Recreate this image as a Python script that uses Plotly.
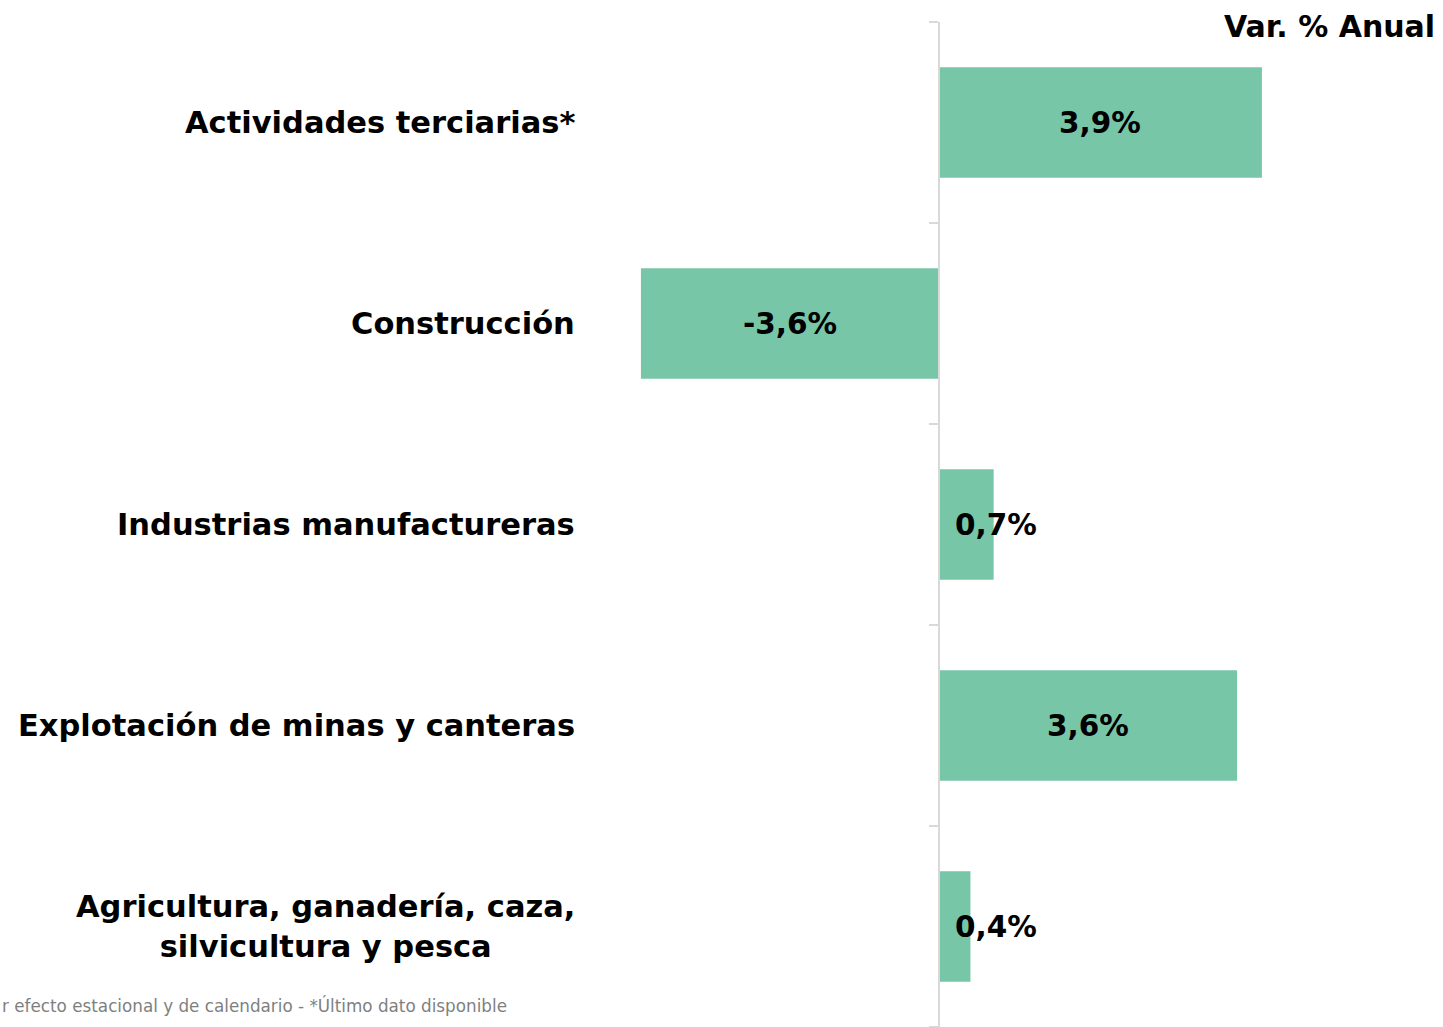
import plotly.graph_objects as go

categories = [
    "Actividades terciarias*",
    "Construcción",
    "Industrias manufactureras",
    "Explotación de minas y canteras",
    "Agricultura, ganadería, caza,<br>silvicultura y pesca",
]
values = [3.9, -3.6, 0.66, 3.6, 0.38]
value_labels = ["3,9%", "-3,6%", "0,7%", "3,6%", "0,4%"]
title_text = "Var. % Anual"
footnote = "r efecto estacional y de calendario - *Último dato disponible"

W, H = 1443, 1027
T = 22
FONT = "DejaVu Sans"
BAR = "#78C6A8"
AXIS = "#d9d9d9"

def py(p):
    # page pixel row -> paper fraction (paper = plot area)
    return (H - p) / (H - T)

fig = go.Figure()
fig.add_trace(go.Bar(
    y=categories, x=values, orientation="h",
    marker=dict(color=BAR, line=dict(width=0)),
    width=0.55, hoverinfo="skip",
))

ann = []
for c, v, t in zip(categories, values, value_labels):
    ann.append(dict(
        xref="paper", yref="y", x=577 / W, y=c, text="<b>%s</b>" % c,
        xanchor="right", yanchor="middle", showarrow=False, align="center",
        font=dict(family=FONT, size=30.5, color="#000000"),
    ))
    if abs(v) < 1:
        ann.append(dict(xref="x", yref="y", x=0, y=c, text="<b>%s</b>" % t,
                        xanchor="left", yanchor="middle", xshift=14, showarrow=False,
                        font=dict(family=FONT, size=29.5, color="#000000")))
    else:
        ann.append(dict(xref="x", yref="y", x=v / 2, y=c, text="<b>%s</b>" % t,
                        xanchor="center", yanchor="middle", showarrow=False,
                        font=dict(family=FONT, size=29.5, color="#000000")))

ann.append(dict(xref="paper", yref="paper", x=1437 / W, y=py(27), text="<b>%s</b>" % title_text,
                xanchor="right", yanchor="middle", showarrow=False,
                font=dict(family=FONT, size=30, color="#000000")))
ann.append(dict(xref="paper", yref="paper", x=0, y=py(1005), text=footnote,
                xanchor="left", yanchor="middle", showarrow=False,
                font=dict(family=FONT, size=16.8, color="#7f7f7f")))

ppu = 82.8
zero_px = 939
fig.update_layout(
    width=W, height=H,
    margin=dict(l=0, r=0, t=T, b=0),
    paper_bgcolor="white", plot_bgcolor="white",
    showlegend=False,
    annotations=ann,
    xaxis=dict(range=[-zero_px / ppu, (W - zero_px) / ppu], visible=False,
               showgrid=False, zeroline=False, fixedrange=True),
    yaxis=dict(type="category", categoryorder="array", categoryarray=categories[::-1],
               range=[-0.5, 4.5], anchor="free", position=zero_px / W,
               showline=True, linecolor=AXIS, linewidth=2,
               ticks="outside", ticklen=9, tickcolor=AXIS, tickwidth=2,
               tickson="boundaries", showticklabels=False, showgrid=False,
               zeroline=False, fixedrange=True),
)

fig.write_html("out.html", config={"displayModeBar": False},
               post_script="document.body.style.margin='0';document.body.style.overflow='hidden';")
